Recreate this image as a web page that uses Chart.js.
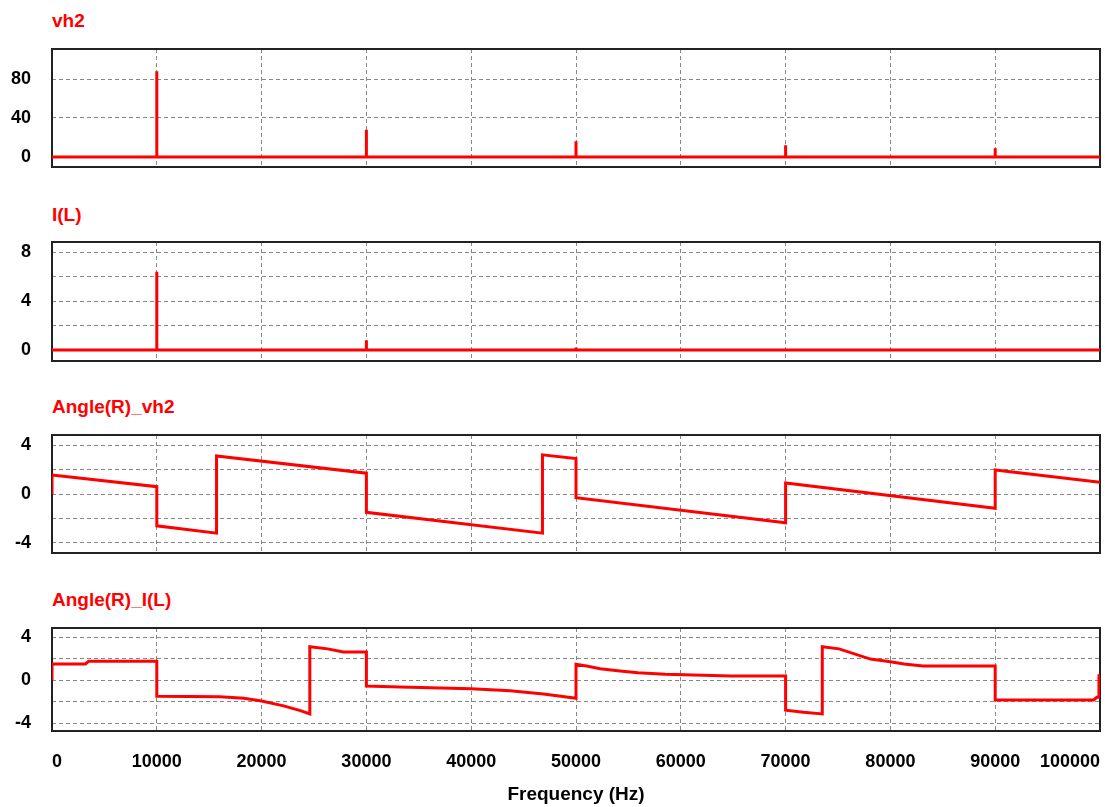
<!DOCTYPE html>
<html>
<head>
<meta charset="utf-8">
<script src="https://cdn.jsdelivr.net/npm/chart.js@4.4.1/dist/chart.umd.min.js"></script>
<style>
  body { margin: 0; background: #fff; width: 1105px; height: 807px; position: relative; overflow: hidden;
         font-family: "Liberation Sans", Arial, sans-serif; }
  .panel { position: absolute; left: 0; width: 1105px; }
  .title { position: absolute; left: 52px; color: #ff0000; font-weight: bold; font-size: 19px; line-height: 19px; }
</style>
</head>
<body>
<div class="title" style="top:11px">vh2</div>
<div class="title" style="top:205px">I(L)</div>
<div class="title" style="top:397px">Angle(R)_vh2</div>
<div class="title" style="top:590px">Angle(R)_I(L)</div>

<div class="panel" style="top:43px;height:130px"><canvas id="c1"></canvas></div>
<div class="panel" style="top:236px;height:131px"><canvas id="c2"></canvas></div>
<div class="panel" style="top:429px;height:130px"><canvas id="c3"></canvas></div>
<div class="panel" style="top:622px;height:185px"><canvas id="c4"></canvas></div>

<script>
// x axis (Hz)
const xTicks = [0, 10000, 20000, 30000, 40000, 50000, 60000, 70000, 80000, 90000, 100000];

// harmonic lines of the spectra
const harmonics = [10000, 30000, 50000, 70000, 90000];
const vh2Peaks = [88, 28, 16, 12, 9];
const ilPeaks = [6.4, 0.8, 0.2, 0.06, 0.03];

// phase of vh2 (rad)
const angVh2Freq = [0, 0, 10000, 10000, 15700, 15700, 30000, 30000, 46800, 46800, 50000, 50000,
                    70000, 70000, 90000, 90000, 100000];
const angVh2Val  = [0, 1.55, 0.6, -2.6, -3.2, 3.1, 1.7, -1.5, -3.2, 3.2, 2.9, -0.3,
                    -2.35, 0.9, -1.17, 1.96, 0.96];

// phase of I(L) (rad)
const angIlFreq = [0, 0, 3200, 3500, 10000, 10000, 16000, 18300, 20000, 22100, 23700, 24600, 24600,
                   26300, 27800, 30000, 30000, 33200, 40000, 43700, 46900, 50000, 50000, 51000,
                   52300, 54200, 55900, 58500, 64800, 70000, 70000, 71700, 73500, 73500, 75100,
                   78100, 80000, 81300, 83100, 90000, 90000, 99400, 99700, 99900, 99900, 100000];
const angIlVal  = [0, 1.5, 1.5, 1.75, 1.75, -1.5, -1.55, -1.7, -1.95, -2.4, -2.85, -3.15, 3.1,
                   2.9, 2.6, 2.6, -0.55, -0.65, -0.8, -1.0, -1.3, -1.7, 1.46, 1.3,
                   1.05, 0.84, 0.68, 0.53, 0.38, 0.37, -2.8, -3.0, -3.15, 3.1, 2.9,
                   1.95, 1.7, 1.5, 1.3, 1.3, -1.85, -1.85, -1.6, -1.6, 0.4, 0.4];

// y grid lines and the ones that get a label
const vh2Ticks = [0, 20, 40, 60, 80, 100];
const vh2Labels = [0, 40, 80];
const ilTicks = [0, 2, 4, 6, 8];
const ilLabels = [0, 4, 8];
const angTicks = [-4, -2, 0, 2, 4];
const angLabels = [-4, 0, 4];

const FONT = '"Liberation Sans", Arial, sans-serif';

function toPoints(xs, ys) {
    return xs.map((x, i) => ({ x: x, y: ys[i] }));
}

function spectrum(peaks) {
    const pts = [{ x: 0, y: 0 }];
    harmonics.forEach((h, i) => {
        pts.push({ x: h, y: 0 }, { x: h, y: peaks[i] }, { x: h, y: 0 });
    });
    pts.push({ x: 100000, y: 0 });
    return pts;
}

// black box round the plot area
const frame = {
    id: 'frame',
    beforeDatasetsDraw(chart) {
        const { ctx, chartArea: a } = chart;
        ctx.save();
        ctx.strokeStyle = '#222';
        ctx.lineWidth = 2;
        ctx.strokeRect(a.left, a.top, a.right - a.left, a.bottom - a.top);
        ctx.restore();
    }
};

function makePanel(id, points, yMin, yMax, yTicks, yLabels, bottom) {
    new Chart(document.getElementById(id), {
        type: 'line',
        data: {
            datasets: [{
                data: points,
                borderColor: '#ff0000',
                borderWidth: 3,
                pointRadius: 0,
                tension: 0,
                fill: false
            }]
        },
        options: {
            animation: false,
            responsive: true,
            maintainAspectRatio: false,
            layout: { padding: { top: 6, bottom: bottom ? 0 : 6, left: 0, right: 5 } },
            plugins: { legend: { display: false }, tooltip: { enabled: false } },
            scales: {
                x: {
                    type: 'linear',
                    min: 0,
                    max: 100000,
                    afterBuildTicks: s => { s.ticks = xTicks.map(v => ({ value: v })); },
                    afterFit: s => {
                        s.height = bottom ? 76 : 0;
                        s.paddingLeft = 0;
                        s.paddingRight = 0;
                    },
                    grid: { color: '#888', lineWidth: 1, drawTicks: false },
                    border: { display: false, dash: [4, 3] },
                    ticks: {
                        display: bottom,
                        autoSkip: false,
                        maxRotation: 0,
                        align: 'inner',
                        padding: 20,
                        color: '#000',
                        font: { family: FONT, size: 18, weight: 'bold' },
                        callback: v => String(v)
                    },
                    title: {
                        display: bottom,
                        text: 'Frequency (Hz)',
                        color: '#000',
                        font: { family: FONT, size: 19, weight: 'bold' },
                        padding: { top: 0, bottom: 1 }
                    }
                },
                y: {
                    min: yMin,
                    max: yMax,
                    afterBuildTicks: s => { s.ticks = yTicks.map(v => ({ value: v })); },
                    afterFit: s => {
                        s.width = 52;
                        s.paddingTop = 0;
                        s.paddingBottom = 0;
                    },
                    grid: { color: '#888', lineWidth: 1, drawTicks: false },
                    border: { display: false, dash: [4, 3] },
                    ticks: {
                        padding: 21,
                        color: '#000',
                        font: { family: FONT, size: 18, weight: 'bold' },
                        callback: v => yLabels.includes(v) ? String(v) : ''
                    }
                }
            }
        },
        plugins: [frame]
    });
}

makePanel('c1', spectrum(vh2Peaks), -10.3, 110.8, vh2Ticks, vh2Labels, false);
makePanel('c2', spectrum(ilPeaks), -0.9, 8.82, ilTicks, ilLabels, false);
makePanel('c3', toPoints(angVh2Freq, angVh2Val), -4.82, 4.82, angTicks, angLabels, false);
makePanel('c4', toPoints(angIlFreq, angIlVal), -4.74, 4.84, angTicks, angLabels, true);
</script>
</body>
</html>
